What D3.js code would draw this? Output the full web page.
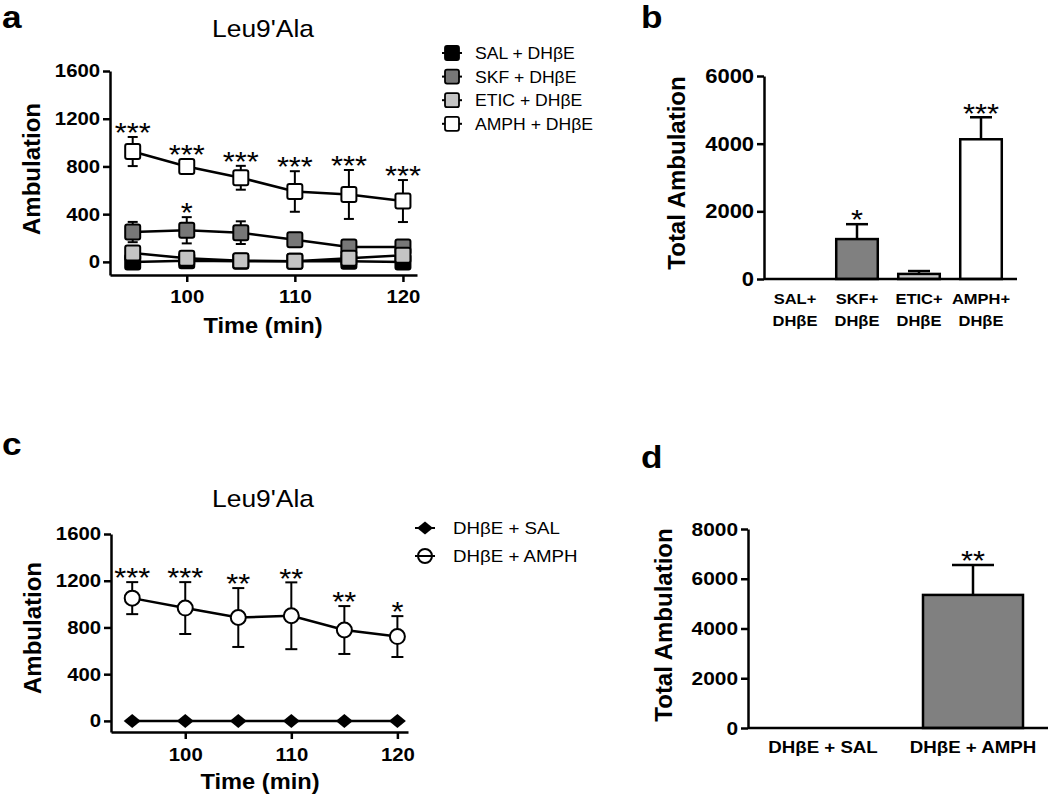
<!DOCTYPE html>
<html><head><meta charset="utf-8">
<script src="https://cdn.jsdelivr.net/npm/d3@7"></script>
<style>
body{margin:0;background:#fff;}
svg{display:block;font-family:Arial,"Liberation Sans",sans-serif;}
</style></head>
<body>
<svg id="chart" width="1050" height="798"></svg>
<script>
// ---------- DATA ----------
const timesA = [95, 100, 105, 110, 115, 120];
const salA = [0, 10, 5, 5, 5, 0];
const salErrA = [10, 10, 5, 5, 5, 10];
const skfA = [250, 265, 245, 185, 125, 125];
const skfErrA = [85, 110, 95, 30, 20, 20];
const eticA = [75, 30, 10, 5, 30, 55];
const eticErrA = [20, 20, 10, 10, 20, 20];
const amphA = [925, 800, 705, 590, 565, 510];
const amphErrA = [122, 50, 100, 170, 205, 176];
const starsAmphA = ["***", "***", "***", "***", "***", "***"];
const starsSkfA = ["", "*", "", "", "", ""];
const legendA = ["SAL + DH\u03b2E", "SKF + DH\u03b2E", "ETIC + DH\u03b2E", "AMPH + DH\u03b2E"];
const yTicksA = [0, 400, 800, 1200, 1600];
const xTicks = [100, 110, 120];

const catsB = [["SAL+", "DH\u03b2E"], ["SKF+", "DH\u03b2E"], ["ETIC+", "DH\u03b2E"], ["AMPH+", "DH\u03b2E"]];
const valsB = [0, 1180, 150, 4130];
const errB = [0, 440, 85, 650];
const starsB = ["", "*", "", "***"];
const yTicksB = [0, 2000, 4000, 6000];

const timesC = [95, 100, 105, 110, 115, 120];
const salC = [0, 0, 0, 0, 0, 0];
const amphC = [1051, 966, 885, 900, 778, 722];
const amphErrC = [137, 222, 252, 286, 205, 175];
const starsC = ["***", "***", "**", "**", "**", "*"];
const legendC = ["DH\u03b2E + SAL", "DH\u03b2E + AMPH"];

const catsD = ["DH\u03b2E + SAL", "DH\u03b2E + AMPH"];
const valsD = [0, 5350];
const errD = [0, 1200];
const starsD = ["", "**"];
const yTicksD = [0, 2000, 4000, 6000, 8000];

// ---------- HELPERS ----------
const svg = d3.select("#chart");
svg.append("rect").attr("width", 1050).attr("height", 798).attr("fill", "#fff");
const SX = 1.1;
const fmt = d3.format("d");
function txt(g, x, y, s, size, weight, anchor) {
  return g.append("text").attr("transform", `translate(${x},${y}) scale(${SX},1)`)
    .attr("font-size", size).attr("font-weight", weight || "normal")
    .attr("text-anchor", anchor || "middle").attr("fill", "#000").text(s);
}
function vtxt(g, x, y, s, size) {
  return g.append("text").attr("transform", `translate(${x},${y}) rotate(-90)`)
    .attr("font-size", size).attr("font-weight", "bold")
    .attr("text-anchor", "middle").attr("fill", "#000").text(s);
}
function styleAxis(ax, size) {
  ax.selectAll("path.domain").attr("stroke", "#000").attr("stroke-width", 2.5);
  ax.selectAll(".tick line").attr("stroke", "#000").attr("stroke-width", 2.5);
  ax.selectAll(".tick text").attr("font-size", size).attr("font-weight", "bold")
    .attr("fill", "#000").attr("font-family", "Arial, 'Liberation Sans', sans-serif")
    .attr("transform", `scale(${SX},1)`);
}
const STAR_FS = 28;
function star(g, x, yTop, s) {
  if (!s) return;
  const cy = yTop - 11;
  txt(g, x, cy + 0.58 * STAR_FS, s, STAR_FS, "normal");
}
const sq = 15;
function drawSquareSeries(g, x, y, t, v, e, fill) {
  const line = d3.line().x((d, i) => x(t[i])).y(d => y(d));
  const sg = g.append("g");
  t.forEach((tt, i) => {
    const cx = x(tt);
    sg.append("line").attr("x1", cx).attr("x2", cx).attr("y1", y(v[i] + e[i])).attr("y2", y(v[i] - e[i]))
      .attr("stroke", "#000").attr("stroke-width", 2);
    [v[i] + e[i], v[i] - e[i]].forEach(val => {
      sg.append("line").attr("x1", cx - 5).attr("x2", cx + 5).attr("y1", y(val)).attr("y2", y(val))
        .attr("stroke", "#000").attr("stroke-width", 2);
    });
  });
  sg.append("path").attr("d", line(v)).attr("fill", "none").attr("stroke", "#000").attr("stroke-width", 2.5);
  sg.selectAll("rect.m").data(v).enter().append("rect")
    .attr("x", (d, i) => x(t[i]) - sq / 2).attr("y", d => y(d) - sq / 2)
    .attr("width", sq).attr("height", sq).attr("rx", 2)
    .attr("fill", fill).attr("stroke", "#000").attr("stroke-width", 2);
}

// ---------- PANEL A ----------
const gA = svg.append("g");
const xA = d3.scaleLinear().domain([92.9, 121.3]).range([110, 417]);
const yA = d3.scaleLinear().domain([-110, 1600]).range([275, 71]);
const axLA = gA.append("g").attr("transform", "translate(110,0)")
  .call(d3.axisLeft(yA).tickValues(yTicksA).tickFormat(fmt).tickSize(7).tickSizeOuter(0).tickPadding(2));
styleAxis(axLA, 18.5);
const axBA = gA.append("g").attr("transform", "translate(0,275)")
  .call(d3.axisBottom(xA).tickValues(xTicks).tickFormat(fmt).tickSize(7).tickSizeOuter(0).tickPadding(8));
styleAxis(axBA, 18.5);
const colorsA = ["#000000", "#777777", "#c4c4c4", "#ffffff"];
drawSquareSeries(gA, xA, yA, timesA, salA, salErrA, colorsA[0]);
drawSquareSeries(gA, xA, yA, timesA, skfA, skfErrA, colorsA[1]);
drawSquareSeries(gA, xA, yA, timesA, eticA, eticErrA, colorsA[2]);
drawSquareSeries(gA, xA, yA, timesA, amphA, amphErrA, colorsA[3]);
timesA.forEach((t, i) => {
  star(gA, xA(t), Math.min(yA(amphA[i] + amphErrA[i]), yA(amphA[i]) - 8), starsAmphA[i]);
  star(gA, xA(t), Math.min(yA(skfA[i] + skfErrA[i]), yA(skfA[i]) - 8), starsSkfA[i]);
});
txt(gA, 2, 28, "a", 32, "bold", "start");
txt(gA, 263, 37, "Leu9'Ala", 24, "normal");
txt(gA, 263, 333, "Time (min)", 21.5, "bold");
vtxt(gA, 40, 169, "Ambulation", 24);
legendA.forEach((s, i) => {
  const cy = 53 + i * 23.6;
  gA.append("line").attr("x1", 442).attr("x2", 462).attr("y1", cy).attr("y2", cy)
    .attr("stroke", "#000").attr("stroke-width", 2);
  gA.append("rect").attr("x", 452 - 7).attr("y", cy - 7).attr("width", 14).attr("height", 14).attr("rx", 2)
    .attr("fill", colorsA[i]).attr("stroke", "#000").attr("stroke-width", 1.8);
  txt(gA, 475, cy + 6, s, 16, "normal", "start");
});

// ---------- PANEL B ----------
const gB = svg.append("g");
const xB = d3.scaleBand().domain(d3.range(catsB.length)).range([764, 1012]).paddingInner(0.33).paddingOuter(0.165);
const yB = d3.scaleLinear().domain([0, 6000]).range([279, 76]);
const colorsB = ["#000000", "#808080", "#c8c8c8", "#ffffff"];
valsB.forEach((v, i) => {
  const x0 = xB(i), w = xB.bandwidth(), cx = x0 + w / 2;
  if (errB[i] > 0) {
    gB.append("line").attr("x1", cx).attr("x2", cx).attr("y1", yB(v)).attr("y2", yB(v + errB[i]))
      .attr("stroke", "#000").attr("stroke-width", 2.5);
    gB.append("line").attr("x1", cx - 11).attr("x2", cx + 11).attr("y1", yB(v + errB[i])).attr("y2", yB(v + errB[i]))
      .attr("stroke", "#000").attr("stroke-width", 2.5);
  }
  if (v > 0) {
    gB.append("rect").attr("x", x0).attr("y", yB(v)).attr("width", w).attr("height", yB(0) - yB(v))
      .attr("fill", colorsB[i]).attr("stroke", "#000").attr("stroke-width", 2.5);
  }
  star(gB, cx, yB(v + errB[i]), starsB[i]);
  txt(gB, cx, 304, catsB[i][0], 15, "bold");
  txt(gB, cx, 326, catsB[i][1], 15, "bold");
});
const axLB = gB.append("g").attr("transform", "translate(764,0)")
  .call(d3.axisLeft(yB).tickValues(yTicksB).tickFormat(fmt).tickSize(7).tickSizeOuter(0).tickPadding(2));
styleAxis(axLB, 20);
gB.append("line").attr("x1", 764).attr("x2", 1017).attr("y1", yB(0)).attr("y2", yB(0))
  .attr("stroke", "#000").attr("stroke-width", 2.5);
txt(gB, 641, 28, "b", 32, "bold", "start");
vtxt(gB, 685, 173, "Total Ambulation", 24);

// ---------- PANEL C ----------
const gC = svg.append("g");
const xC = d3.scaleLinear().domain([93, 121]).range([111, 408]);
const yC = d3.scaleLinear().domain([-95, 1600]).range([732, 534]);
const axLC = gC.append("g").attr("transform", "translate(111,0)")
  .call(d3.axisLeft(yC).tickValues(yTicksA).tickFormat(fmt).tickSize(7).tickSizeOuter(0).tickPadding(2));
styleAxis(axLC, 18.5);
const axBC = gC.append("g").attr("transform", "translate(0,732)")
  .call(d3.axisBottom(xC).tickValues(xTicks).tickFormat(fmt).tickSize(7).tickSizeOuter(0).tickPadding(9));
styleAxis(axBC, 18.5);
const diamond = (cx, cy, w, h) => `M${cx - w / 2},${cy}L${cx},${cy - h / 2}L${cx + w / 2},${cy}L${cx},${cy + h / 2}Z`;
gC.append("path").attr("d", d3.line().x((d, i) => xC(timesC[i])).y(d => yC(d))(salC))
  .attr("fill", "none").attr("stroke", "#000").attr("stroke-width", 2.5);
salC.forEach((v, i) => {
  gC.append("path").attr("d", diamond(xC(timesC[i]), yC(v), 17, 14)).attr("fill", "#000");
});
amphC.forEach((v, i) => {
  const cx = xC(timesC[i]);
  gC.append("line").attr("x1", cx).attr("x2", cx).attr("y1", yC(v + amphErrC[i])).attr("y2", yC(v - amphErrC[i]))
    .attr("stroke", "#000").attr("stroke-width", 2);
  [v + amphErrC[i], v - amphErrC[i]].forEach(val => {
    gC.append("line").attr("x1", cx - 6).attr("x2", cx + 6).attr("y1", yC(val)).attr("y2", yC(val))
      .attr("stroke", "#000").attr("stroke-width", 2);
  });
});
gC.append("path").attr("d", d3.line().x((d, i) => xC(timesC[i])).y(d => yC(d))(amphC))
  .attr("fill", "none").attr("stroke", "#000").attr("stroke-width", 2.5);
amphC.forEach((v, i) => {
  gC.append("circle").attr("cx", xC(timesC[i])).attr("cy", yC(v)).attr("r", 7.5)
    .attr("fill", "#fff").attr("stroke", "#000").attr("stroke-width", 2);
  star(gC, xC(timesC[i]), yC(v + amphErrC[i]), starsC[i]);
});
txt(gC, 2, 455, "c", 32, "bold", "start");
txt(gC, 263, 507, "Leu9'Ala", 24, "normal");
txt(gC, 260, 789, "Time (min)", 21.5, "bold");
vtxt(gC, 41, 628, "Ambulation", 24);
[528, 556].forEach((cy, i) => {
  gC.append("line").attr("x1", 415).attr("x2", 435).attr("y1", cy).attr("y2", cy)
    .attr("stroke", "#000").attr("stroke-width", 2);
  if (i === 0) {
    gC.append("path").attr("d", diamond(425, cy, 16, 13)).attr("fill", "#000");
  } else {
    gC.append("circle").attr("cx", 425).attr("cy", cy).attr("r", 7)
      .attr("fill", "none").attr("stroke", "#000").attr("stroke-width", 2);
  }
  txt(gC, 453, cy + 6, legendC[i], 17, "normal", "start");
});

// ---------- PANEL D ----------
const gD = svg.append("g");
const xD = d3.scaleBand().domain(d3.range(catsD.length)).range([748, 1048]).paddingInner(1 / 3).paddingOuter(1 / 6);
const yD = d3.scaleLinear().domain([0, 8000]).range([728, 529]);
valsD.forEach((v, i) => {
  const x0 = xD(i), w = xD.bandwidth(), cx = x0 + w / 2;
  if (errD[i] > 0) {
    gD.append("line").attr("x1", cx).attr("x2", cx).attr("y1", yD(v)).attr("y2", yD(v + errD[i]))
      .attr("stroke", "#000").attr("stroke-width", 2.5);
    gD.append("line").attr("x1", cx - 21).attr("x2", cx + 21).attr("y1", yD(v + errD[i])).attr("y2", yD(v + errD[i]))
      .attr("stroke", "#000").attr("stroke-width", 2.5);
  }
  if (v > 0) {
    gD.append("rect").attr("x", x0).attr("y", yD(v)).attr("width", w).attr("height", yD(0) - yD(v))
      .attr("fill", "#808080").attr("stroke", "#000").attr("stroke-width", 2.5);
  }
  star(gD, cx, yD(v + errD[i]), starsD[i]);
  txt(gD, cx, 753, catsD[i], 17, "bold");
});
const axLD = gD.append("g").attr("transform", "translate(748,0)")
  .call(d3.axisLeft(yD).tickValues(yTicksD).tickFormat(fmt).tickSize(7).tickSizeOuter(0).tickPadding(2));
styleAxis(axLD, 19);
gD.append("line").attr("x1", 748).attr("x2", 1048).attr("y1", yD(0)).attr("y2", yD(0))
  .attr("stroke", "#000").attr("stroke-width", 2.5);
txt(gD, 641, 468, "d", 32, "bold", "start");
vtxt(gD, 672, 625, "Total Ambulation", 24);
</script>
</body></html>
